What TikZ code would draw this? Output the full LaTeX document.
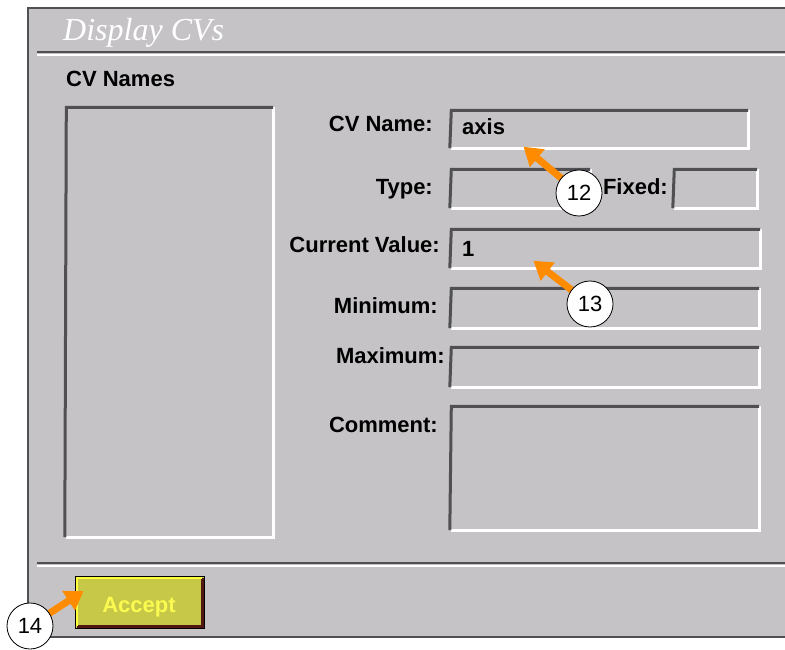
\documentclass[tikz,border=0pt]{standalone}
\usepackage{fontspec}
\setmainfont{Liberation Sans}
\newfontfamily\titlefont{Liberation Serif}
\usetikzlibrary{arrows.meta,fit}
\definecolor{panel}{RGB}{197,195,198}
\definecolor{darkedge}{RGB}{80,80,84}
\definecolor{btnfill}{RGB}{200,200,72}
\definecolor{btnhi}{RGB}{255,255,60}
\definecolor{btnlo}{RGB}{80,24,16}
\definecolor{btntext}{RGB}{250,250,80}
\definecolor{callout}{RGB}{255,140,0}
\newcommand\sunkenbox[3]{%
  \node[inner sep=0pt, fit={#2 #3}] (#1) {};
  \draw[white, line width=3pt] ([xshift=1.5pt]#1.south west) -- (#1.south east) -- ([yshift=-1.5pt]#1.north east);
  \draw[darkedge, line width=3pt] (#1.south west) -- ([yshift=-1.5pt,xshift=1.5pt]#1.north west) -- ([yshift=-1.5pt]#1.north east);
}
\tikzset{
  lbl/.style={font=\fontsize{22}{24}\selectfont\bfseries, inner sep=0pt, anchor=base east, text=black},
  val/.style={font=\fontsize{22}{24}\selectfont\bfseries, inner sep=0pt, anchor=base west, text=black},
  num/.style={circle, draw=black, line width=0.8pt, fill=white, minimum size=46pt, inner sep=0pt, font=\fontsize{22}{24}\selectfont},
  callarrow/.style={callout, line width=7pt, -{Triangle[length=18pt, width=22pt]}, shorten >=-2pt},
}
\begin{document}
\begin{tikzpicture}[x=1pt, y=-1pt]
\useasboundingbox (0,0) rectangle (785,650);
% window panel
\fill[panel] (28,8) rectangle (790,637);
\draw[darkedge, line width=2pt] (790,8) -- (28,8) -- (28,637) -- (790,637);
% title
\node[font=\titlefont\itshape\fontsize{32}{34}\selectfont, text=white, inner sep=0pt, anchor=base west] (title) at (63,41) {Display CVs};
% separators
\draw[darkedge, line width=2pt] (37,52) -- (790,52);
\draw[white, line width=1.2pt] (37,55) -- (790,55);
\draw[darkedge, line width=2pt] (37,563) -- (790,563);
\draw[white, line width=1.2pt] (37,566) -- (790,566);
% CV names list
\node[lbl, anchor=base west] (cvnames) at (66,87) {CV Names};
\sunkenbox{list}{(65,106)}{(273,537)}
% fields
\node[lbl] (lname) at (433,132) {CV Name:};
\sunkenbox{fname}{(450,109)}{(748,148)}
\node[val] (vname) at (462,135) {axis};
\node[lbl] (ltype) at (433,194) {Type:};
\sunkenbox{ftype}{(450,168)}{(590,208)}
\node[lbl] (lfixed) at (668,194) {Fixed:};
\sunkenbox{ffixed}{(673,168)}{(757,208)}
\node[lbl] (lcur) at (440,252) {Current Value:};
\sunkenbox{fcur}{(450,228)}{(760,268)}
\node[val] (vcur) at (462,256) {1};
\node[lbl] (lmin) at (438,313) {Minimum:};
\sunkenbox{fmin}{(450,287)}{(759,328)}
\node[lbl] (lmax) at (445,363) {Maximum:};
\sunkenbox{fmax}{(450,346)}{(759,387)}
\node[lbl] (lcom) at (438,432) {Comment:};
\sunkenbox{fcom}{(450,405)}{(759,530)}
% accept button
\node[fill=btnfill, draw=black, line width=1pt, minimum width=129pt, minimum height=52pt, inner sep=0pt, anchor=north west] (accept) at (75,576) {};
\draw[btnlo, line width=3pt] ([xshift=2pt,yshift=2.5pt]accept.south west) -- ([xshift=-2.5pt,yshift=2.5pt]accept.south east) -- ([xshift=-2.5pt,yshift=-2pt]accept.north east);
\draw[btnhi, line width=2pt] ([xshift=2pt,yshift=3pt]accept.south west) -- ([xshift=2pt,yshift=-2pt]accept.north west) -- ([xshift=-3pt,yshift=-2pt]accept.north east);
\node[font=\fontsize{22}{24}\selectfont\bfseries, text=btntext, inner sep=0pt, anchor=base] (accepttext) at (139,612) {Accept};
% callouts
\coordinate (t12) at (525,148);
\coordinate (t13) at (535,262);
\coordinate (t14) at (82,592);
\coordinate (c12) at (579,193);
\coordinate (c13) at (590,304);
\coordinate (c14) at (30,626);
\draw[callarrow] (c12) -- (t12);
\draw[callarrow] (c13) -- (t13);
\draw[callarrow] (c14) -- (t14);
\node[num] (n12) at (c12) {12};
\node[num] (n13) at (c13) {13};
\node[num] (n14) at (c14) {14};
\end{tikzpicture}
\end{document}
